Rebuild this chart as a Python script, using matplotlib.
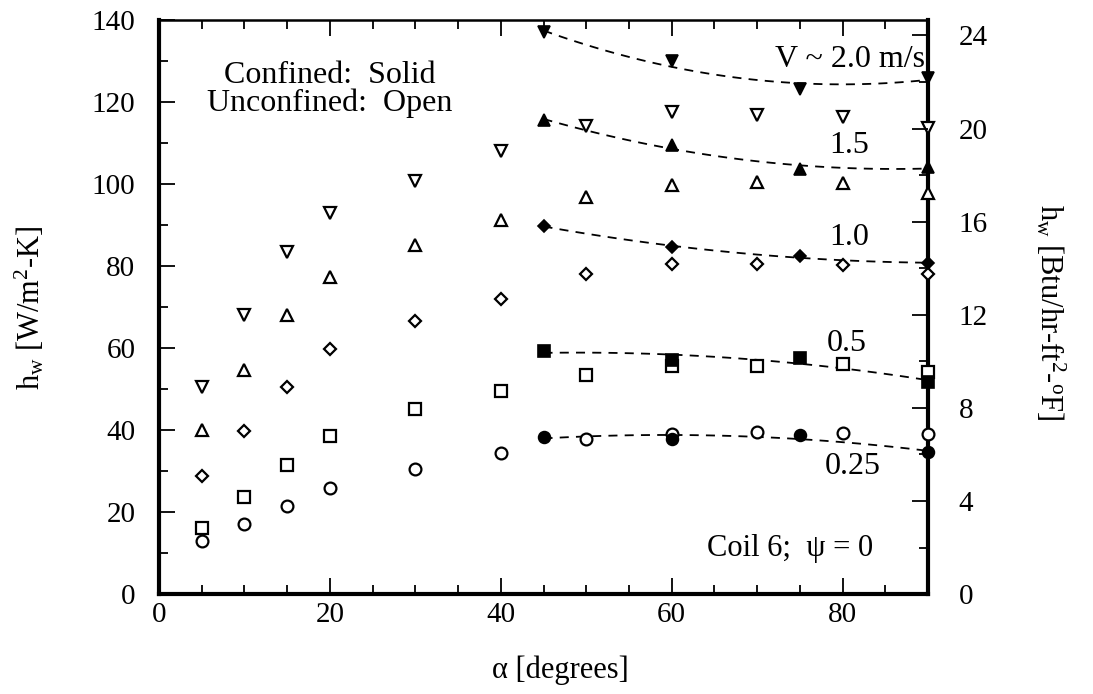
import numpy as np
import matplotlib
matplotlib.use("Agg")
import matplotlib.pyplot as plt
from matplotlib.ticker import MultipleLocator

plt.rcParams['font.family'] = ['Liberation Serif', 'DejaVu Serif']
plt.rcParams['mathtext.fontset'] = 'custom'
plt.rcParams['mathtext.rm'] = 'Liberation Serif'
plt.rcParams['mathtext.it'] = 'Liberation Serif:italic'

# ---- data ----
alpha_open = [5, 10, 15, 20, 30, 40, 50, 60, 70, 80, 90]
open_20 = [50.5, 68.0, 83.4, 92.9, 100.7, 108.0, 114.1, 117.6, 116.8, 116.3, 113.7]
open_15 = [40.0, 54.6, 68.0, 77.3, 85.1, 91.2, 96.8, 99.8, 100.5, 100.2, 97.8]
open_10 = [28.8, 39.8, 50.5, 59.8, 66.6, 72.0, 78.0, 80.5, 80.5, 80.2, 78.0]
open_05 = [16.1, 23.7, 31.5, 38.5, 45.1, 49.6, 53.4, 55.6, 55.6, 56.1, 54.1]
open_025 = [12.9, 17.1, 21.5, 25.9, 30.5, 34.4, 37.8, 39.0, 39.5, 39.3, 39.0]

alpha_solid = [45, 60, 75, 90]
solid_20 = [137.0, 130.0, 123.2, 125.9]
solid_15 = [115.6, 109.5, 103.7, 104.1]
solid_10 = [89.8, 84.6, 82.4, 80.7]
solid_05 = [59.3, 57.0, 57.6, 51.7]
solid_025 = [38.3, 37.8, 38.8, 34.6]

curve_labels = ["V ~ 2.0 m/s", "1.5", "1.0", "0.5", "0.25"]
W_PER_BTU = 5.678

fig = plt.figure(figsize=(10.93, 6.94), dpi=100)
ax = fig.add_axes([159 / 1093, 0.144, 769 / 1093, 0.827])

series = [
    (open_20, solid_20, 'v'),
    (open_15, solid_15, '^'),
    (open_10, solid_10, 'D'),
    (open_05, solid_05, 's'),
    (open_025, solid_025, 'o'),
]
msizes = {'v': 9, '^': 9, 'D': 6.5, 's': 8.5, 'o': 8.5}

for yo, ys, m in series:
    # dashed fit through confined points
    c = np.polyfit(alpha_solid, ys, 2)
    xx = np.linspace(alpha_solid[0], alpha_solid[-1], 100)
    ax.plot(xx, np.polyval(c, xx), ls=(0, (5, 4)), color='black', lw=1.3, zorder=2)
    ax.plot(alpha_open, yo, ls='none', marker=m, ms=msizes[m], mfc='white',
            mec='black', mew=1.6, clip_on=False, zorder=3)
    ax.plot(alpha_solid, ys, ls='none', marker=m, ms=msizes[m], mfc='black',
            mec='black', mew=1.2, clip_on=False, zorder=4)

ax.set_xlim(0, 90)
ax.set_ylim(0, 140)
ax.xaxis.set_major_locator(MultipleLocator(20))
ax.xaxis.set_minor_locator(MultipleLocator(5))
ax.yaxis.set_major_locator(MultipleLocator(20))
ax.yaxis.set_minor_locator(MultipleLocator(10))
ax.set_xticks([0, 20, 40, 60, 80])

ax.tick_params(which='both', direction='in', top=True, right=False, width=1.3)
ax.tick_params(which='major', length=11.5, labelsize=21)
ax.tick_params(axis='y', which='major', pad=17)
ax.tick_params(axis='x', which='major', pad=6)
ax.tick_params(which='minor', length=6.5)

for s in ['left', 'bottom', 'right']:
    ax.spines[s].set_linewidth(3)
ax.spines['top'].set_linewidth(1.8)

ax2 = ax.twinx()
ax2.set_ylim(0, 140 / W_PER_BTU)
ax2.yaxis.set_major_locator(MultipleLocator(4))
ax2.yaxis.set_minor_locator(MultipleLocator(2))
ax2.tick_params(which='both', direction='in', width=1.3)
ax2.tick_params(which='major', length=11.5, labelsize=21, pad=22)
ax2.tick_params(which='minor', length=6.5)
for s in ax2.spines.values():
    s.set_visible(False)

fig.text(560 / 1093, 1 - 670 / 694, 'α [degrees]', fontsize=22, ha='center', va='center')
fig.text(30 / 1093, 1 - 308 / 694, r'h$_\mathrm{w}$ [W/m$^\mathrm{2}$-K]', fontsize=22,
         rotation=90, ha='center', va='center')
fig.text(1050 / 1093, 1 - 312 / 694, r'h$_\mathrm{w}$ [Btu/hr-ft$^\mathrm{2}$-$^\mathrm{o}$F]',
         fontsize=22, rotation=-90, ha='center', va='center')

ax.text(20, 126.6, 'Confined:  Solid', fontsize=23, ha='center', va='center')
ax.text(20, 119.8, 'Unconfined:  Open', fontsize=23, ha='center', va='center')

lab_pos = [(80.9, 130.5), (80.8, 109.5), (80.8, 87), (80.5, 61), (81.2, 31)]
for t, (x, y) in zip(curve_labels, lab_pos):
    ax.text(x, y, t, fontsize=23, ha='center', va='center')

ax.text(73.8, 11.2, 'Coil 6;  ψ = 0', fontsize=22, ha='center', va='center')

fig.savefig('out.png', dpi=100)
